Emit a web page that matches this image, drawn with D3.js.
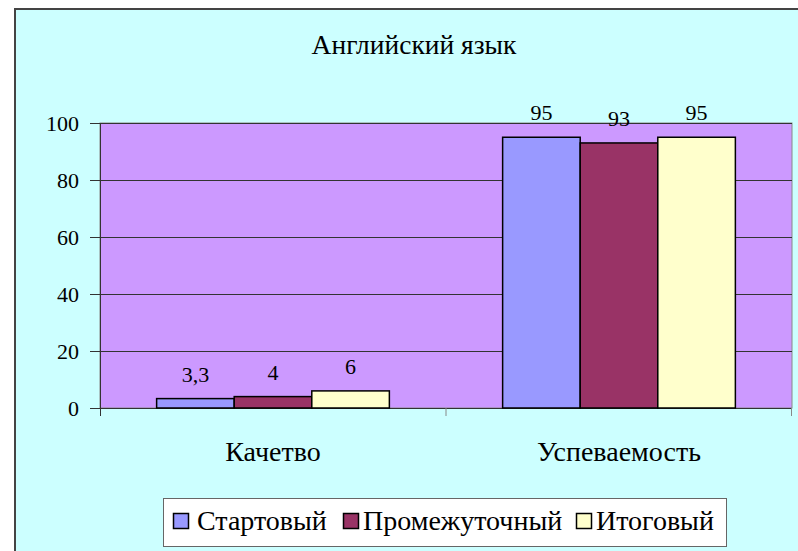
<!DOCTYPE html>
<html>
<head>
<meta charset="utf-8">
<script src="https://cdn.jsdelivr.net/npm/d3@7"></script>
<style>
  body { margin: 0; background: #fff; }
  svg text { font-family: "Times New Roman", "Liberation Serif", "DejaVu Serif", serif; fill: #000; }
</style>
</head>
<body>
<div id="chart"></div>
<script>
var categories = ["Качетво", "Успеваемость"];
var seriesNames = ["Стартовый", "Промежуточный", "Итоговый"];
var seriesColors = ["#9999FF", "#993366", "#FFFFCC"];
var startValues = [3.3, 95];
var middleValues = [4, 93];
var finalValues = [6, 95];
var yTicks = [0, 20, 40, 60, 80, 100];

var seriesValues = [startValues, middleValues, finalValues];

var margin = { left: 100, right: 6, top: 123, bottom: 143 };
var width = 798 - margin.left - margin.right,
    height = 551 - margin.top - margin.bottom;

var svg = d3.select("#chart")
    .append("svg")
        .attr("width", 798)
        .attr("height", 551);

// outer chart frame
svg.append("rect")
    .attr("x", 15)
    .attr("y", 9)
    .attr("width", 810)
    .attr("height", 560)
    .style("fill", "#CCFFFF")
    .style("stroke", "#444")
    .style("stroke-width", 2);

svg.append("text")
    .attr("x", 414)
    .attr("y", 54)
    .attr("font-size", "27.5px")
    .attr("text-anchor", "middle")
    .text("Английский язык");

var g = svg.append("g")
    .attr("transform", "translate(" + margin.left + "," + margin.top + ")");

var xScale = d3.scaleBand().domain(categories).range([0, width]);
var xInner = d3.scaleBand().domain(seriesNames)
    .range([0, xScale.bandwidth()])
    .paddingOuter(0.73);
var yScale = d3.scaleLinear().domain([0, 100]).range([height, 0]);

g.append("rect")
    .attr("width", width)
    .attr("height", height)
    .style("fill", "#CC99FF")
    .style("stroke", "#888")
    .style("stroke-width", 1);

g.selectAll(".grid")
    .data(yTicks.slice(1))
    .enter()
    .append("line")
        .attr("x1", 0)
        .attr("x2", width)
        .attr("y1", function(d) { return Math.round(yScale(d)) + 0.5; })
        .attr("y2", function(d) { return Math.round(yScale(d)) + 0.5; })
        .style("stroke", "#333")
        .style("stroke-width", 1);

var yaxis = d3.axisLeft(yScale).tickValues(yTicks).tickSize(10).tickPadding(11)
    .tickFormat(d3.format("d"));
var xaxis = d3.axisBottom(xScale).tickSize(8).tickFormat("");

var yAxisG = g.append("g").call(yaxis).attr("font-family", null);
yAxisG.select(".domain").remove();
yAxisG.selectAll(".tick line").style("stroke", "#333");
yAxisG.selectAll(".tick text")
    .attr("font-size", "22px")
    .attr("dy", "0.36em");

// left axis line runs a little below the baseline
g.append("line")
    .attr("x1", 0.5).attr("x2", 0.5)
    .attr("y1", 0).attr("y2", height + 8)
    .style("stroke", "#333");

var xAxisG = g.append("g")
    .attr("transform", "translate(0," + height + ")")
    .call(xaxis).attr("font-family", null);
xAxisG.select(".domain").attr("d", "M0,0.5H" + width).style("stroke", "#333");
// category separators instead of centered ticks
xAxisG.selectAll(".tick").remove();
xAxisG.selectAll(".sep")
    .data(categories.slice(1).concat([null]))
    .enter()
    .append("line")
        .attr("x1", function(d) { return d === null ? width - 0.5 : xScale(d); })
        .attr("x2", function(d) { return d === null ? width - 0.5 : xScale(d); })
        .attr("y1", 0)
        .attr("y2", 8)
        .style("stroke", "#888");

xAxisG.selectAll(".cat")
    .data(categories)
    .enter()
    .append("text")
        .attr("x", function(d) { return xScale(d) + xScale.bandwidth() / 2; })
        .attr("y", 53)
        .attr("font-size", "28px")
        .attr("text-anchor", "middle")
        .text(function(d) { return d; });

var bars = [];
seriesNames.forEach(function(s, i) {
    categories.forEach(function(c, j) {
        bars.push({ series: s, color: seriesColors[i], cat: c, value: seriesValues[i][j] });
    });
});

g.selectAll(".bar")
    .data(bars)
    .enter()
    .append("rect")
        .attr("x", function(d) { return xScale(d.cat) + xInner(d.series); })
        .attr("y", function(d) { return yScale(d.value); })
        .attr("width", xInner.bandwidth())
        .attr("height", function(d) { return height - yScale(d.value); })
        .style("fill", function(d) { return d.color; })
        .style("stroke", "#000")
        .style("stroke-width", 1.5);

var fmt = function(v) { return String(v).replace(".", ","); };

g.selectAll(".label")
    .data(bars)
    .enter()
    .append("text")
        .attr("x", function(d) { return xScale(d.cat) + xInner(d.series) + xInner.bandwidth() / 2; })
        .attr("y", function(d) { return yScale(d.value) - 17; })
        .attr("font-size", "22px")
        .attr("text-anchor", "middle")
        .text(function(d) { return fmt(d.value); });

// legend
var legend = svg.append("g").attr("transform", "translate(163,498)");
legend.append("rect")
    .attr("x", 0.5).attr("y", 0.5)
    .attr("width", 563).attr("height", 48)
    .style("fill", "#fff")
    .style("stroke", "#666");

var legendX = [10, 180, 413];
var items = legend.selectAll(".item")
    .data(seriesNames)
    .enter()
    .append("g")
        .attr("transform", function(d, i) { return "translate(" + legendX[i] + ",0)"; });
items.append("rect")
    .attr("x", 0.5).attr("y", 15.5)
    .attr("width", 15).attr("height", 15)
    .style("fill", function(d, i) { return seriesColors[i]; })
    .style("stroke", "#000")
    .style("stroke-width", 1.5);
items.append("text")
    .attr("x", function(d, i) { return i === 0 ? 24 : 20; })
    .attr("y", 32)
    .attr("font-size", "28px")
    .text(function(d) { return d; });
</script>
</body>
</html>
